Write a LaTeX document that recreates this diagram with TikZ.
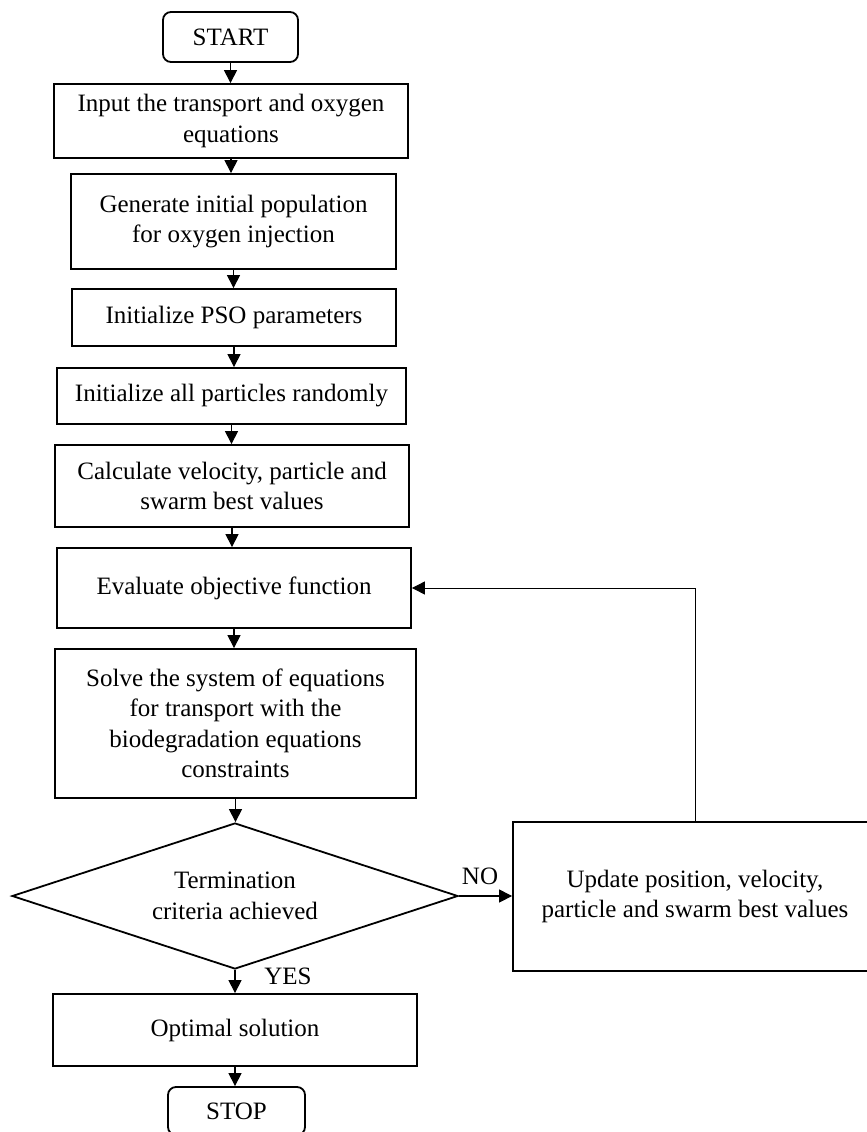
\documentclass[tikz,border=0pt]{standalone}
\usepackage{fontspec}
\setmainfont{Liberation Serif}
\usetikzlibrary{shapes.geometric,arrows.meta}
\tikzset{
  proc/.style={draw, line width=1.8pt, inner sep=0pt, align=center, font=\fontsize{25}{30.5}\selectfont},
  term/.style={proc, rounded corners=8pt},
  dec/.style={proc, diamond, aspect=3, minimum width=446pt, minimum height=146pt},
  lbl/.style={inner sep=0pt, font=\fontsize{25}{30.5}\selectfont},
  flow/.style={line width=1.1pt, -{Triangle[length=13pt,width=13pt]}},
  back/.style={line width=0.9pt, -{Triangle[length=13pt,width=13pt]}},
}

\begin{document}
\begin{tikzpicture}[x=1pt, y=-1pt]
  \useasboundingbox (0,0) rectangle (867,1132);
  \node[term, minimum width=135pt, minimum height=50pt]  (start) at (230.5,37) {START};
  \node[proc, minimum width=354pt, minimum height=74pt]  (input) at (231,121) {Input the transport and oxygen\\equations};
  \node[proc, minimum width=325pt, minimum height=95pt]  (gen)   at (233.5,221.5) {Generate initial population\\for oxygen injection};
  \node[proc, minimum width=324pt, minimum height=57pt]  (pso)   at (234,317.5) {Initialize PSO parameters};
  \node[proc, minimum width=349pt, minimum height=56pt]  (init)  at (231.5,396) {Initialize all particles randomly};
  \node[proc, minimum width=354pt, minimum height=82pt]  (calc)  at (232,486) {Calculate velocity, particle and\\swarm best values};
  \node[proc, minimum width=354pt, minimum height=80pt]  (eval)  at (234,588) {Evaluate objective function};
  \node[proc, minimum width=361pt, minimum height=149pt] (solve) at (235.5,723.5) {Solve the system of equations\\for transport with the\\biodegradation equations\\constraints};
  \node[dec] (crit) at (235,896) {Termination\\criteria achieved};
  \node[proc, minimum width=364pt, minimum height=149pt] (upd)   at (695,896.5) {Update position, velocity,\\particle and swarm best values};
  \node[proc, minimum width=364pt, minimum height=72pt]  (opt)   at (235,1030) {Optimal solution};
  \node[term, minimum width=137pt, minimum height=48pt]  (stop)  at (236.5,1111) {STOP};
  \node[lbl] (no)  at (480,876) {NO};
  \node[lbl] (yes) at (288,976) {YES};
  \foreach \a/\b in {start/input,input/gen,gen/pso,pso/init,init/calc,calc/eval,eval/solve,solve/crit,crit/opt,opt/stop}
    \draw[flow] (\a) -- (\a |- \b.north);
  \draw[flow] (crit.east) -- (crit.east -| upd.west);
  \draw[back] (upd) -- (upd |- eval) -- (eval);
\end{tikzpicture}
\end{document}
